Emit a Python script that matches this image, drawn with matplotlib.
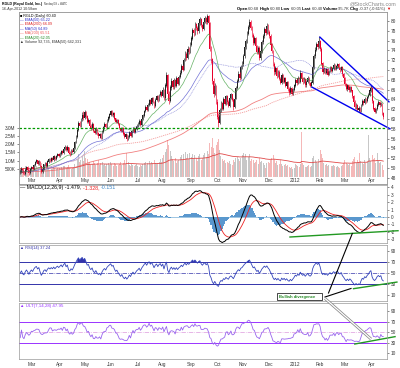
import matplotlib
matplotlib.use("Agg")
import matplotlib.pyplot as plt
from matplotlib.patches import Rectangle
import numpy as np
import pandas as pd

plt.rcParams["font.family"] = ["Liberation Sans", "DejaVu Sans"]
plt.rcParams["axes.unicode_minus"] = False

# RGLD daily, 15-Feb-2011 .. 16-Apr-2012
close = [
    49.2, 49.8, 49.0, 48.7, 49.5, 50.1, 49.6, 48.9, 49.7,
    50.2, 49.8, 50.6, 51.2, 51.5, 50.9, 51.4, 50.3, 49.2, 49.8, 50.7, 51.0, 50.5, 51.3, 51.8, 51.5, 52.0, 51.7, 52.3, 51.9, 52.4, 52.8, 52.5,
    52.9, 53.4, 53.0, 53.8, 54.3, 53.6, 54.2, 53.1, 52.8, 53.5, 53.2, 54.0, 55.2, 56.4, 57.8, 59.2, 58.6, 59.9, 60.8, 60.2,
    61.3, 60.5, 59.4, 59.8, 58.6, 58.1, 58.9, 57.6, 57.2, 58.0, 57.1, 56.5, 56.9, 56.2, 57.4, 58.3, 58.9, 58.4, 59.6, 60.3, 60.9,
    61.5, 60.8, 61.2, 60.1, 59.3, 59.8, 58.9, 58.2, 57.5, 58.1, 57.0, 56.3, 56.8, 55.9, 56.4, 57.2, 56.6, 57.5, 58.1, 57.4, 57.9, 58.6,
    59.0, 59.6, 58.8, 59.9, 60.7, 61.6, 62.4, 61.8, 62.9, 63.8, 63.1, 64.2, 63.5, 62.6, 63.9, 64.6, 63.8, 64.9, 65.5, 64.7,
    65.9, 64.2, 66.8, 68.9, 65.1, 63.6, 66.4, 67.8, 66.5, 67.9, 66.8, 68.3, 67.2, 68.6, 69.4, 70.8, 70.1, 72.0, 73.3, 72.4, 74.2, 73.6, 75.1,
    76.4, 78.2, 77.5, 79.3, 78.6, 77.9, 79.6, 80.4, 79.1, 78.4, 79.8, 80.6, 79.7, 80.9, 79.6, 74.3, 72.1, 67.8, 65.2, 66.7, 63.5,
    60.4, 59.1, 61.8, 63.2, 62.1, 64.0, 63.1, 64.6, 63.4, 62.7, 64.3, 65.0, 63.9, 62.5, 64.1, 66.3, 67.8, 69.2, 68.4, 70.6, 71.3,
    72.8, 74.6, 75.9, 77.4, 78.7, 79.8, 78.5, 77.1, 75.6, 76.4, 74.8, 73.6, 74.5, 72.4, 73.8, 75.7, 76.9, 78.3, 77.6, 78.9, 77.8,
    76.9, 75.2, 73.8, 71.2, 69.5, 70.3, 68.7, 69.6, 68.2, 67.4, 68.9, 67.6, 68.3, 66.8, 67.5, 66.1, 65.4, 66.3, 65.2, 66.0, 66.8,
    67.9, 67.3, 68.4, 67.6, 69.3, 68.2, 67.5, 68.1, 66.9, 67.6, 68.3, 67.2, 66.8, 67.4, 70.6, 72.8, 74.1, 75.3, 74.6, 75.8,
    74.2, 71.3, 69.6, 70.2, 69.4, 70.1, 69.0, 69.8, 70.5, 69.7, 70.3, 71.0, 70.2, 70.8, 71.2, 70.4, 69.9, 70.6, 69.1, 68.3,
    67.1, 66.2, 66.8, 65.9, 66.5, 65.8, 64.6, 63.5, 62.4, 62.9, 61.9, 62.2, 61.7, 62.8, 63.7, 63.2, 64.1, 63.6, 64.4, 64.9, 65.8, 66.3,
    63.6, 62.1, 61.5, 62.0, 62.9, 63.4, 62.8, 63.2, 61.1, 60.4,
]
high = [
    49.8, 50.2, 50.0, 49.3, 49.9, 50.4, 50.3, 49.8, 50.0,
    50.5, 50.4, 50.9, 51.5, 51.9, 51.7, 51.7, 51.5, 50.5, 50.1, 50.9, 51.3, 51.2, 51.6, 52.1, 52.0, 52.3, 52.2, 52.6, 52.5, 52.7, 53.1, 53.0,
    53.2, 53.7, 53.6, 54.1, 54.7, 54.5, 54.6, 54.3, 53.4, 53.8, 53.8, 54.3, 55.6, 56.8, 58.2, 59.6, 59.5, 60.3, 61.5, 61.6,
    61.9, 61.6, 60.8, 60.3, 60.1, 58.9, 59.3, 59.2, 57.9, 58.4, 58.2, 57.4, 57.2, 57.2, 57.7, 58.6, 59.3, 59.2, 59.9, 60.6, 61.3,
    61.9, 61.8, 61.5, 61.4, 60.3, 60.1, 60.0, 59.2, 58.4, 58.4, 58.3, 57.3, 57.1, 56.9, 56.7, 57.5, 57.4, 57.8, 58.4, 58.3, 58.2, 58.9,
    59.3, 59.9, 59.8, 60.2, 61.0, 61.9, 62.8, 62.6, 63.2, 64.1, 64.0, 64.5, 64.4, 63.7, 64.2, 64.9, 64.8, 65.2, 65.9, 65.8,
    66.5, 66.2, 67.3, 69.6, 69.2, 65.8, 66.9, 68.4, 68.0, 68.3, 68.1, 68.7, 68.5, 69.0, 69.9, 71.3, 71.0, 72.5, 73.9, 73.6, 74.8, 74.6, 75.8,
    76.9, 78.6, 78.5, 79.8, 79.6, 79.0, 80.1, 80.9, 80.6, 79.4, 80.2, 81.1, 80.8, 81.5, 81.2, 79.9, 74.8, 72.5, 68.3, 67.4, 67.0,
    64.0, 61.2, 62.3, 63.6, 63.5, 64.4, 64.3, 64.9, 64.9, 63.8, 64.7, 65.4, 65.2, 64.2, 64.5, 66.7, 68.2, 69.7, 69.6, 71.0, 71.8,
    73.3, 75.1, 76.4, 77.9, 79.2, 80.4, 80.2, 78.9, 77.5, 76.9, 76.8, 75.2, 74.9, 74.8, 74.2, 76.1, 77.4, 78.8, 78.6, 79.5, 79.3,
    78.2, 77.4, 75.6, 74.1, 71.6, 70.8, 70.6, 69.9, 69.9, 68.5, 69.3, 69.1, 68.6, 68.5, 67.8, 67.8, 66.5, 66.7, 66.5, 66.3, 67.2,
    68.4, 68.3, 68.7, 68.6, 69.9, 69.6, 68.5, 68.5, 68.3, 67.9, 68.7, 68.5, 67.5, 67.8, 71.0, 73.2, 74.6, 75.8, 75.7, 77.0,
    76.2, 74.6, 71.7, 70.6, 70.5, 70.4, 70.4, 70.1, 70.8, 70.8, 70.6, 71.4, 71.3, 71.1, 71.5, 71.4, 70.7, 70.9, 70.8, 69.4,
    68.6, 67.4, 67.1, 67.0, 66.8, 66.7, 65.9, 64.9, 63.8, 63.2, 63.1, 62.6, 62.4, 63.1, 64.0, 63.9, 64.4, 64.3, 64.7, 65.3, 66.1, 66.9,
    66.4, 63.9, 62.4, 62.3, 63.2, 63.8, 63.6, 63.5, 63.3, 61.4,
]
low = [
    48.8, 49.0, 48.8, 48.5, 48.6, 49.3, 49.3, 48.6, 48.8,
    49.5, 49.6, 49.6, 50.4, 51.0, 50.6, 50.7, 50.1, 48.9, 49.0, 49.6, 50.5, 50.3, 50.3, 51.1, 51.3, 51.3, 51.5, 51.5, 51.7, 51.7, 52.2, 52.2,
    52.3, 52.7, 52.8, 52.8, 53.6, 53.4, 53.4, 52.9, 52.5, 52.6, 53.0, 53.0, 53.8, 55.0, 56.1, 57.6, 58.3, 58.4, 59.6, 59.8,
    60.0, 60.2, 59.1, 59.1, 58.3, 57.8, 57.9, 57.3, 56.9, 57.0, 56.8, 56.2, 56.2, 55.9, 56.0, 57.2, 58.0, 58.1, 58.2, 59.4, 60.0,
    60.6, 60.6, 60.5, 59.8, 59.1, 59.1, 58.7, 57.9, 57.3, 57.3, 56.8, 56.1, 56.1, 55.6, 55.7, 56.2, 56.4, 56.4, 57.3, 57.2, 57.2, 57.7,
    58.3, 58.8, 58.6, 58.6, 59.7, 60.5, 61.4, 61.6, 61.6, 62.7, 62.9, 62.9, 63.3, 62.3, 62.4, 63.7, 63.5, 63.6, 64.7, 64.4,
    64.4, 63.9, 63.8, 66.5, 64.8, 63.1, 63.4, 66.0, 66.2, 66.2, 66.5, 66.6, 67.0, 67.0, 68.4, 69.2, 69.8, 69.9, 71.8, 72.0, 72.2, 73.3, 73.4,
    74.8, 76.1, 77.0, 77.2, 78.2, 77.3, 77.6, 79.2, 78.8, 78.0, 78.2, 79.5, 79.3, 79.4, 79.2, 73.8, 71.4, 67.2, 64.4, 64.8, 63.0,
    60.1, 58.3, 58.9, 61.5, 61.8, 61.9, 62.8, 62.9, 63.1, 62.4, 62.5, 64.0, 63.6, 61.9, 62.3, 64.0, 66.1, 67.5, 68.0, 68.2, 70.3,
    70.9, 72.4, 74.2, 75.6, 77.1, 78.4, 78.1, 76.8, 75.2, 75.3, 74.5, 73.2, 73.3, 72.0, 72.1, 73.5, 75.4, 76.6, 77.2, 77.3, 77.4,
    76.5, 74.9, 73.4, 70.8, 69.0, 69.2, 68.4, 68.5, 67.9, 67.1, 67.2, 67.3, 67.4, 66.5, 66.6, 65.8, 64.9, 65.2, 64.8, 64.9, 65.8,
    66.5, 67.0, 67.1, 67.3, 67.4, 68.0, 67.2, 67.3, 66.6, 66.6, 67.4, 66.9, 66.5, 66.5, 67.2, 70.3, 72.5, 73.8, 74.2, 74.4,
    73.9, 71.0, 69.2, 69.4, 69.1, 69.2, 68.7, 68.9, 69.6, 69.5, 69.5, 70.1, 70.0, 70.0, 70.5, 70.2, 69.6, 69.7, 68.8, 67.9,
    66.8, 65.9, 65.8, 65.6, 65.6, 65.5, 64.3, 63.2, 62.1, 62.1, 61.6, 61.4, 61.3, 61.5, 62.6, 62.9, 63.0, 63.3, 63.4, 64.2, 64.6, 65.5,
    63.3, 61.8, 61.2, 61.3, 61.8, 62.7, 62.5, 62.6, 60.9, 60.1,
]
# volume in thousands of shares
volume_k = [
    520, 610, 480, 450, 700, 560, 430, 650, 540,
    580, 620, 510, 470, 690, 540, 460, 720, 880, 610, 530, 490, 560, 620, 580, 450, 510, 470, 600, 530, 480, 560, 440,
    520, 610, 480, 700, 650, 530, 590, 740, 520, 480, 560, 610, 820, 950, 1120, 1380, 900, 1050, 1260, 980,
    1620, 1150, 1080, 870, 940, 760, 820, 950, 860, 720, 880, 1010, 760, 830, 900, 710, 780, 650, 820, 880, 760,
    910, 820, 700, 860, 780, 650, 740, 820, 900, 720, 850, 1050, 780, 1480, 890, 760, 680, 820, 740, 660, 710, 800,
    690, 620, 730, 680, 810, 860, 920, 740, 880, 960, 780, 920, 830, 1020, 870, 790, 850, 930, 1080, 890,
    1180, 1350, 1520, 1690, 2250, 1980, 1560, 1280, 1090, 980, 1150, 880, 960, 1040, 1200, 1320, 1060, 1410, 1520, 1180, 1390, 1120, 1480,
    1250, 1430, 1080, 1360, 1180, 990, 1270, 1400, 1060, 1150, 1320, 1480, 1210, 1620, 1390, 2100, 1850, 2400, 1760, 1450, 1980,
    2150, 2300, 1650, 1280, 1120, 960, 1040, 870, 920, 880, 990, 820, 760, 1050, 940, 1160, 1250, 1080, 960, 1180, 1320,
    1450, 1230, 1380, 1060, 1240, 1410, 980, 1120, 1050, 860, 920, 1010, 780, 1150, 890, 960, 830, 760, 540, 880, 920,
    880, 1060, 1180, 1320, 1090, 860, 980, 760, 820, 1040, 790, 680, 740, 820, 650, 720, 590, 530, 610, 480, 560,
    820, 740, 690, 620, 780, 2750, 860, 720, 640, 590, 680, 720, 610, 650, 1180, 1260, 1050, 940, 880, 1120,
    1680, 1420, 1160, 880, 760, 820, 690, 740, 820, 700, 650, 760, 690, 620, 700, 640, 580, 660, 720, 840,
    1060, 860, 790, 740, 820, 690, 980, 1120, 1240, 880, 1060, 920, 1450, 960, 850, 780, 1020, 880, 940, 2580, 1150, 980,
    1320, 1080, 1160, 870, 1480, 960, 840, 910, 760, 430,
]
holidays = ["2011-02-21", "2011-04-22", "2011-05-30", "2011-07-04", "2011-09-05", "2011-11-24",
            "2011-12-26", "2012-01-02", "2012-01-16", "2012-02-20", "2012-04-06"]

# hand drawn lines (day index, value)
resist_x, resist_y = [241.9, 297.6], [76.7, 63.5]
support_x, support_y = [235.5, 298.4], [66.5, 58.0]
support_level = 58.2
macd_div_x, macd_div_y = [217.7, 304.9], [-2.67, -1.83]
rsi_div_x, rsi_div_y = [269.0, 304.0], [21.5, 33.5]
ult_div_x, ult_div_y = [270.0, 302.5], [28.0, 42.0]

dates = pd.bdate_range("2011-02-15", "2012-04-16")
dates = dates[~dates.isin(pd.to_datetime(holidays))]
n = len(close)
x = np.arange(n)

c = pd.Series(close)
h = pd.Series(high)
l = pd.Series(low)
o = c.shift(1).fillna(c.iloc[0])  # open taken as previous close
vol = pd.Series(volume_k, dtype=float)
up = (c >= o).values

# overlays / indicators
ema20 = c.ewm(span=20, adjust=False).mean()
ema50 = c.ewm(span=50, adjust=False).mean()
ma50 = c.rolling(50, min_periods=1).mean()
ema200 = c.ewm(span=200, adjust=False).mean()
ma200 = c.rolling(200, min_periods=1).mean()
vol_ema = vol.ewm(span=50, adjust=False).mean()

macd = c.ewm(span=12, adjust=False).mean() - c.ewm(span=26, adjust=False).mean()
signal = macd.ewm(span=9, adjust=False).mean()
hist = macd - signal

# Wilder RSI(14), seeded with half the mean absolute change of the first two weeks
dd = c.diff().fillna(0).values
g = lo = np.abs(dd[1:15]).mean() / 2
rsi = []
for v in dd:
    g = (g * 13 + max(v, 0)) / 14
    lo = (lo * 13 + max(-v, 0)) / 14
    rsi.append(100 - 100 / (1 + g / lo))
rsi = np.array(rsi)

pc = c.shift(1).fillna(c.iloc[0])
bl = np.minimum(l, pc)
bp = c - bl
tr = np.maximum(h, pc) - bl
def ult_avg(k):
    return bp.rolling(k, min_periods=1).sum() / tr.rolling(k, min_periods=1).sum()
ult = 100 * (4 * ult_avg(7) + 2 * ult_avg(14) + ult_avg(28)) / 7

month_first = [i for i in range(1, n) if dates[i].month != dates[i - 1].month]
month_lab = ["2012" if dates[i].month == 1 else dates[i].strftime("%b") for i in month_first]

# layout in pixels
W, H = 400, 368
fig = plt.figure(figsize=(W / 100, H / 100), dpi=100)

def box(top, bottom, left=19, right=387):
    return [left / W, 1 - bottom / H, (right - left) / W, (bottom - top) / H]

ax_p = fig.add_axes(box(12, 184))
ax_v = ax_p.twinx()
ax_m = fig.add_axes(box(185, 243))
ax_r = fig.add_axes(box(245, 301))
ax_u = fig.add_axes(box(303, 359))

ax_v.set_zorder(0)
ax_p.set_zorder(1)
ax_p.patch.set_visible(False)

for ax in [ax_p, ax_v, ax_m, ax_r, ax_u]:
    ax.set_xlim(-1, 296)
    ax.set_xticks([])
    for s in ax.spines.values():
        s.set_color("#999999")
        s.set_linewidth(0.5)
    ax.tick_params(labelsize=3.4, pad=1, length=1.5, width=0.4, colors="#333333")
for ax in [ax_p, ax_m, ax_r, ax_u]:
    ax.yaxis.tick_right()

# volume
ax_v.yaxis.tick_left()
ax_v.bar(x, vol, width=0.8, color=np.where(up, "#b0b0b0", "#f29a9a"), alpha=0.7, lw=0)
ax_v.plot(x, vol_ema, color="#e04848", lw=0.6)
ax_v.set_ylim(-430, 10100)
ax_v.set_yticks([500, 1000, 1500, 2000, 2500, 3000])
ax_v.set_yticklabels(["500K", "1.0M", "1.5M", "2.0M", "2.5M", "3.0M"])

# price
ax_p.plot(x, ma200, color="#f4a0a0", lw=0.6, ls=(0, (1.5, 1)))
ax_p.plot(x, ema200, color="#ee6060", lw=0.6, alpha=0.8)
ax_p.plot(x, ma50, color="#9999dd", lw=0.5, ls=(0, (1.5, 1)))
ax_p.plot(x, ema50, color="#5050cc", lw=0.5, alpha=0.8)
ax_p.plot(x, ema20, color="#55aa55", lw=0.5, alpha=0.9)
col = np.where(up, "#222222", "#e8002c")
ax_p.vlines(x, l, h, colors=col, lw=0.45)
ax_p.bar(x, (c - o).abs() + 0.05, bottom=np.minimum(c, o), width=0.7, color=col, lw=0)
ax_p.axhline(support_level, color="#009900", lw=0.9, ls=(0, (2, 1.5)))
ax_p.plot(resist_x, resist_y, color="#0000ee", lw=1.0, clip_on=False)
ax_p.plot(support_x, support_y, color="#0000ee", lw=1.0, clip_on=False)
ax_p.set_ylim(46.73, 81.84)
ax_p.set_yticks(np.arange(48, 81, 2))
for i, lab in zip(month_first, month_lab):
    ax_p.text(i, 0.022, lab, transform=ax_p.get_xaxis_transform(), ha="center", va="center",
              fontsize=3.4, color="#333333")

# MACD
ax_m.bar(x, hist, width=1.0, color="#3d85c6", alpha=0.85, lw=0)
ax_m.axhline(0, color="#5599cc", lw=0.4)
ax_m.plot(x, signal, color="#ee2222", lw=0.6)
ax_m.plot(x, macd, color="black", lw=0.7)
ax_m.plot(macd_div_x, macd_div_y, color="#229922", lw=1.0, clip_on=False)
ax_m.set_ylim(-3.47, 4.27)
ax_m.set_yticks(range(-3, 5))

# RSI
ax_r.axhline(70, color="#3333aa", lw=0.7)
ax_r.axhline(30, color="#3333aa", lw=0.7)
ax_r.axhline(50, color="#3333aa", lw=0.5, ls="-.")
ax_r.plot(x, rsi, color="#3344bb", lw=0.6)
ax_r.fill_between(x, 70, rsi, where=rsi > 70, color="#3333aa", lw=0)
ax_r.plot(rsi_div_x, rsi_div_y, color="#229922", lw=1.0, clip_on=False)
ax_r.set_ylim(-0.9, 100.9)
ax_r.set_yticks([10, 30, 50, 70, 90])

# ULT
ax_u.axhline(70, color="#9933ff", lw=0.7)
ax_u.axhline(30, color="#9933ff", lw=0.7)
ax_u.axhline(50, color="#dd99dd", lw=0.5, ls="-.")
ax_u.plot(x, ult, color="#9966ee", lw=0.6)
ax_u.plot(ult_div_x, ult_div_y, color="#229922", lw=1.0, clip_on=False)
ax_u.set_ylim(-0.5, 106)
ax_u.set_yticks([10, 30, 50, 70, 90])
for i, lab in zip(month_first, month_lab):
    ax_u.text(i, -0.09, lab, transform=ax_u.get_xaxis_transform(), ha="center", va="center",
              fontsize=3.4, color="#333333")

# overlay in pixel coordinates for texts and annotations
ov = fig.add_axes([0, 0, 1, 1])
ov.set_xlim(0, W)
ov.set_ylim(H, 0)
ov.axis("off")
ov.patch.set_alpha(0)
renderer = fig.canvas.get_renderer()

def fit_parts(x0, x1, y, parts, size=None):
    # lay coloured pieces side by side; size chosen so they span x0..x1
    ts = [ov.text(0, y, s, color=cl, fontsize=10, fontweight=wt, va="center", ha="left", zorder=6)
          for s, cl, wt in parts]
    if size is None:
        total = sum(t.get_window_extent(renderer=renderer).width for t in ts)
        size = 10 * (x1 - x0) / total
    xx = x0
    for t in ts:
        t.set_fontsize(size)
        t.set_x(xx)
        xx += t.get_window_extent(renderer=renderer).width
    return size

fit_parts(2, 42, 4.5, [("RGLD (Royal Gold, Inc.)", "black", "bold")])
fit_parts(44, 67, 4.5, [("Nasdaq GS + WATC", "#333333", "normal")])
fit_parts(2, 37, 9.3, [("16-Apr-2012 10:58am", "#333333", "normal")])
fit_parts(237, 393, 9.3, [("Open ", "black", "bold"), ("60.68 ", "#333333", "normal"),
                          ("High ", "black", "bold"), ("60.80 ", "#333333", "normal"),
                          ("Low ", "black", "bold"), ("60.05 ", "#333333", "normal"),
                          ("Last ", "black", "bold"), ("60.40 ", "#333333", "normal"),
                          ("Volume ", "black", "bold"), ("95.7K ", "#333333", "normal"),
                          ("Chg ", "black", "bold"), ("-0.37 (-0.61%) ", "#333333", "normal"),
                          ("\u25bc", "#dd0000", "normal")])
fit_parts(350, 397, 4.2, [("@StockCharts.com", "#888888", "normal")])

legend = [("\u25a0 RGLD (Daily) 60.40", "black"),
          ("\u2014 EMA(50) 65.22", "#3030cc"),
          ("\u2014 EMA(200) 66.09", "#dd2222"),
          ("\u2014 MA(50) 64.89", "#3030cc"),
          ("\u2014 MA(200) 65.51", "#ee5555"),
          ("\u2014 EMA(20) 62.05", "#228822"),
          ("\u25b2 Volume 92,735, EMA(50) 642,331", "#333333")]
lsize = fit_parts(20, 56, 15.5, [(legend[0][0], legend[0][1], "normal")])
for k, (s, cl) in enumerate(legend[1:], start=1):
    fit_parts(20, 0, 15.5 + 4.4 * k, [(s, cl, "normal")], size=lsize)

fit_parts(20, 115, 187.8, [("\u2014 MACD(12,26,9) -1.479, ", "black", "normal"), ("-1.328, ", "#ee2222", "normal"),
                           ("-0.151", "#3d85c6", "normal")])
fit_parts(20, 50, 247.5, [("\u25b2 RSI(14) 37.24", "#3333aa", "normal")])
fit_parts(20, 63, 306.0, [("\u25b2 ULT(7,14,28) 47.95", "#9933ff", "normal")])

# "Bullish divergence" call-out
ov.plot([328.5, 352.3], [293, 233.5], color="black", lw=0.8)
ov.plot([325, 351], [297, 288.5], color="black", lw=0.8)
ov.plot([325, 371], [298.5, 339], color="#888888", lw=2.0, solid_capstyle="butt")
ov.plot([325, 371], [298.5, 339], color="white", lw=0.9, solid_capstyle="butt")
ov.add_patch(Rectangle((277, 293.3), 45, 6.7, fc="white", ec="black", lw=0.5, zorder=5))
fit_parts(279, 316, 296.7, [("Bullish divergence", "#228822", "bold")])

fig.savefig("out.png", dpi=100)
